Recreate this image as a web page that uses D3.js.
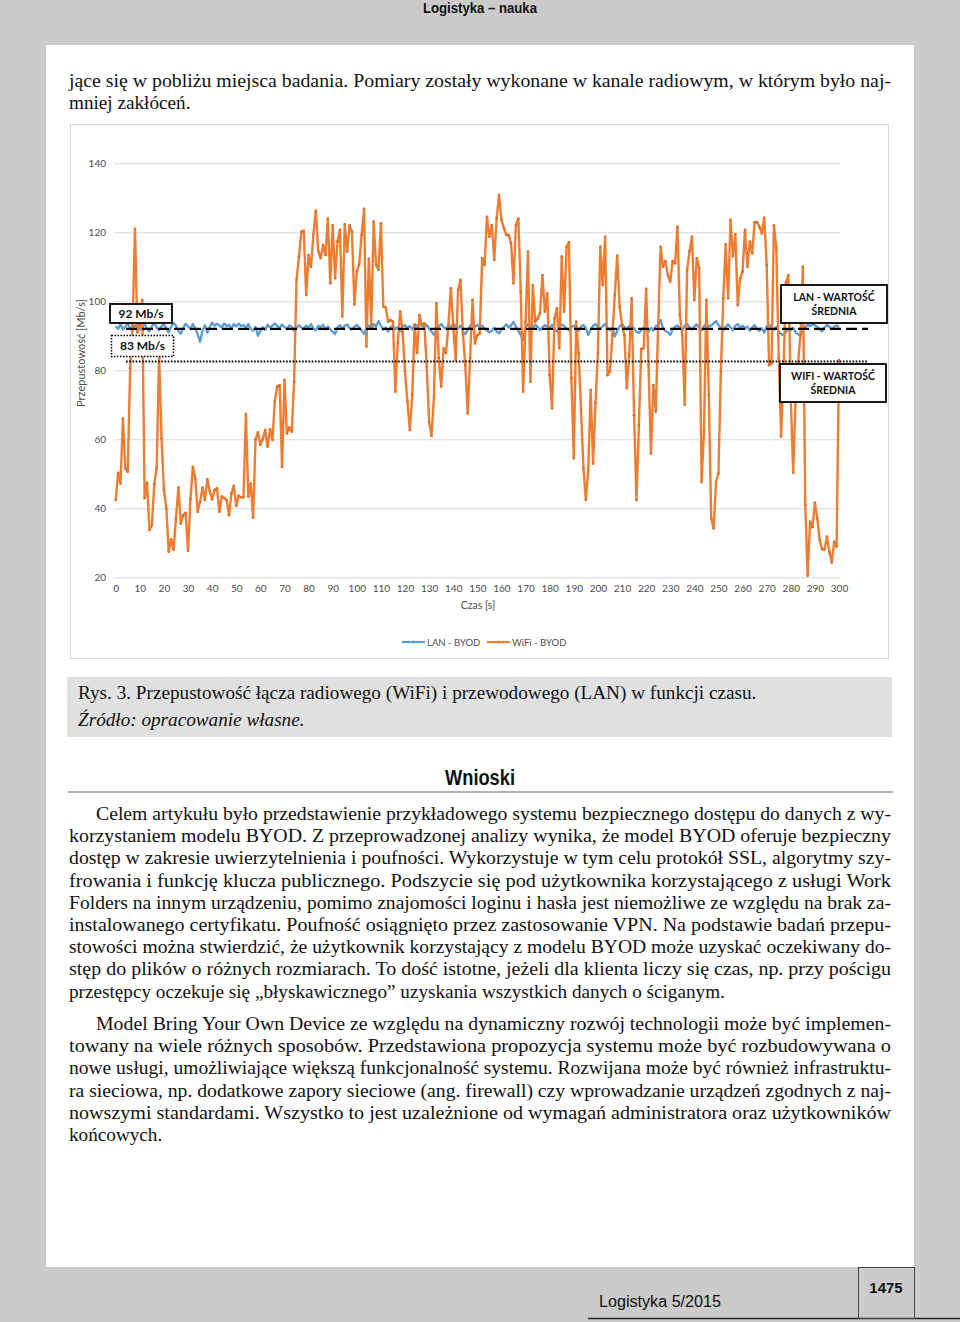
<!DOCTYPE html>
<html>
<head>
<meta charset="utf-8">
<script src="https://cdn.jsdelivr.net/npm/d3@7"></script>
<style>
    body { margin: 0; background: #cbcbcb; }
    svg { display: block; }
</style>
</head>
<body>
<svg id="page" width="960" height="1322"></svg>
<script>
var timeTicks = [0, 10, 20, 30, 40, 50, 60, 70, 80, 90, 100, 110, 120, 130, 140, 150,
                 160, 170, 180, 190, 200, 210, 220, 230, 240, 250, 260, 270, 280, 290, 300];
var valueTicks = [20, 40, 60, 80, 100, 120, 140];

var lanValues = [
    92.8, 92.0, 93.4, 91.8, 92.6, 93.6, 92.2, 91.5, 92.9, 93.2,
    91.8, 92.5, 93.5, 92.0, 91.3, 92.7, 93.8, 92.4, 91.6, 92.8,
    93.3, 92.1, 91.0, 92.6, 93.7, 92.9, 91.4, 90.6, 92.3, 93.5,
    92.7, 91.9, 93.4, 92.2, 90.4, 88.2, 91.5, 93.1, 90.9, 92.6,
    93.8, 92.9, 93.5, 93.0, 92.4, 93.6, 92.8, 93.2, 92.1, 93.4,
    92.7, 93.5, 92.9, 93.1, 92.3, 93.4, 92.0, 91.5, 92.6, 90.0,
    91.4, 92.5, 91.7, 93.2, 92.4, 92.9, 93.6, 92.8, 92.2, 93.3,
    92.5, 91.9, 93.0, 92.6, 91.4, 92.2, 93.1, 92.4, 92.0, 93.0,
    92.3, 93.4, 92.1, 91.6, 92.9, 92.5, 93.2, 91.8, 92.7, 91.9,
    91.2, 90.5, 92.4, 93.1, 92.0, 92.9, 93.3, 92.2, 91.8, 92.6,
    93.2, 92.4, 91.5, 90.6, 92.3, 93.0, 92.1, 93.5, 92.6, 94.3,
    92.9, 91.7, 92.4, 91.2, 92.5, 93.0, 91.8, 92.6, 91.4, 92.8,
    93.1, 92.2, 92.8, 91.9, 93.4, 92.6, 93.8, 93.0, 92.4, 93.2,
    92.0, 91.3, 90.3, 91.6, 92.7, 93.4, 92.5, 91.9, 93.0, 92.4,
    93.5, 92.8, 92.1, 93.0, 91.2, 90.5, 91.7, 92.9, 93.3, 92.6,
    93.2, 92.4, 92.9, 92.1, 91.6, 91.0, 91.5, 92.3, 91.2, 90.7,
    91.8, 92.6, 93.3, 92.4, 93.0, 94.0, 92.6, 91.5, 90.2, 88.8,
    92.5, 93.4, 92.9, 92.2, 93.3, 92.6, 91.7, 92.4, 93.1, 92.7,
    92.3, 93.2, 92.0, 91.3, 92.6, 93.3, 92.8, 92.1, 91.6, 92.5,
    93.0, 92.2, 91.4, 92.7, 93.1, 92.3, 90.2, 91.8, 92.9, 93.4,
    92.6, 91.9, 92.8, 93.5, 92.4, 91.6, 92.3, 89.8, 91.4, 92.7,
    93.4, 92.5, 91.8, 92.9, 93.2, 92.1, 91.2, 90.8, 91.6, 92.4,
    91.9, 91.2, 92.3, 91.5, 92.8, 93.1, 94.6, 92.2, 91.4, 91.0,
    90.2, 91.8, 92.6, 93.0, 92.3, 91.5, 92.9, 93.4, 92.5, 91.8,
    92.7, 93.3, 92.4, 91.6, 92.8, 93.5, 92.7, 93.0, 93.6, 94.3,
    93.1, 92.4, 91.5, 92.6, 93.3, 92.5, 91.6, 92.9, 93.4, 92.3,
    93.0, 92.1, 92.7, 91.5, 92.4, 93.1, 92.0, 91.4, 92.2, 90.9,
    92.8, 93.3, 92.4, 91.7, 92.6, 91.2, 90.5, 90.2, 91.1, 92.0,
    91.6, 92.3, 91.0, 90.4, 90.2, 91.3, 92.5, 93.2, 92.8, 93.4,
    93.0, 92.6, 91.8, 91.3, 92.4, 93.1, 92.7, 91.9, 92.6, 93.0,
    92.5
];

var wifiValues = [
    42.4, 50.3, 47.2, 66.0, 51.6, 50.6, 80.6, 93.0, 121.0, 91.0,
    93.0, 100.4, 43.0, 47.4, 33.7, 35.0, 47.0, 51.8, 84.5, 60.3,
    45.3, 40.0, 27.4, 31.0, 28.0, 37.0, 46.0, 35.6, 38.0, 38.7,
    27.7, 42.6, 52.0, 48.7, 39.0, 42.0, 46.0, 42.4, 48.4, 45.0,
    42.6, 45.3, 45.8, 39.0, 43.4, 43.0, 42.4, 38.0, 44.3, 46.5,
    40.7, 43.6, 43.2, 43.2, 67.3, 43.4, 47.2, 37.3, 60.0, 62.0,
    58.4, 60.0, 62.7, 57.9, 62.9, 59.8, 71.0, 75.3, 75.7, 52.0,
    77.2, 61.7, 63.4, 62.2, 76.7, 106.2, 113.0, 120.2, 120.4, 101.8,
    113.4, 110.0, 119.4, 126.2, 114.6, 112.5, 116.3, 113.4, 124.0, 105.2,
    122.0, 106.7, 117.3, 120.7, 95.6, 122.3, 114.4, 122.0, 120.2, 99.1,
    108.6, 110.7, 119.2, 126.8, 86.9, 112.3, 93.1, 123.1, 110.5, 109.1,
    122.6, 98.5, 98.2, 94.1, 94.6, 94.1, 73.8, 88.0, 97.0, 91.0,
    79.6, 71.0, 62.7, 72.9, 93.1, 85.0, 96.0, 93.0, 93.6, 81.0,
    65.0, 61.0, 72.4, 99.4, 83.5, 75.3, 86.4, 85.0, 93.1, 103.8,
    93.1, 83.0, 103.3, 106.2, 90.7, 81.5, 67.5, 83.5, 100.4, 87.8,
    90.2, 90.7, 112.5, 110.5, 124.5, 118.7, 122.1, 112.0, 124.0, 130.8,
    123.6, 121.2, 119.2, 119.2, 116.8, 105.2, 122.1, 124.0, 102.8, 73.8,
    94.1, 114.4, 76.7, 104.7, 94.1, 95.0, 96.5, 107.6, 97.0, 102.3,
    78.6, 69.0, 95.0, 98.0, 86.4, 113.0, 97.0, 115.8, 117.1, 77.7,
    54.5, 94.1, 85.0, 68.5, 51.6, 42.4, 51.1, 74.3, 53.0, 70.4,
    85.0, 115.8, 104.7, 118.7, 78.6, 79.6, 90.2, 101.8, 113.2, 98.5,
    93.1, 90.2, 74.8, 84.4, 100.9, 67.0, 42.4, 64.2, 86.2, 86.4,
    103.6, 81.5, 55.9, 75.7, 68.0, 93.1, 115.8, 110.0, 111.7, 107.6,
    105.7, 111.7, 111.0, 121.6, 96.0, 90.2, 70.0, 109.1, 114.4, 118.7,
    100.4, 112.5, 109.6, 47.6, 62.2, 100.4, 72.8, 37.1, 34.2, 47.7,
    50.1, 79.6, 100.9, 116.5, 100.9, 123.6, 113.0, 119.4, 98.9, 106.6,
    108.6, 120.7, 110.0, 117.3, 113.9, 122.9, 122.9, 121.6, 119.7, 124.2,
    110.5, 81.5, 82.0, 122.0, 115.4, 83.5, 60.8, 80.0, 105.5, 107.6,
    72.0, 50.3, 72.0, 82.0, 90.0, 110.0, 41.0, 20.5, 36.1, 34.5,
    41.6, 37.1, 30.8, 28.1, 28.1, 31.8, 27.4, 24.3, 30.3, 28.9,
    83.0
];

var lanMean = 92;
var wifiMean = 83;

// page text
var topLines = [
    { text: "jące się w pobliżu miejsca badania. Pomiary zostały wykonane w kanale radiowym, w którym było naj-", x: 69, full: true },
    { text: "mniej zakłóceń.", x: 69, full: false }
];
var conclusionsA = [
    { text: "Celem artykułu było przedstawienie przykładowego systemu bezpiecznego dostępu do danych z wy-", x: 96, full: true },
    { text: "korzystaniem modelu BYOD. Z przeprowadzonej analizy wynika, że model BYOD oferuje bezpieczny", x: 69, full: true },
    { text: "dostęp w zakresie uwierzytelnienia i poufności. Wykorzystuje w tym celu protokół SSL, algorytmy szy-", x: 69, full: true },
    { text: "frowania i funkcję klucza publicznego. Podszycie się pod użytkownika korzystającego z usługi Work", x: 69, full: true },
    { text: "Folders na innym urządzeniu, pomimo znajomości loginu i hasła jest niemożliwe ze względu na brak za-", x: 69, full: true },
    { text: "instalowanego certyfikatu. Poufność osiągnięto przez zastosowanie VPN. Na podstawie badań przepu-", x: 69, full: true },
    { text: "stowości można stwierdzić, że użytkownik korzystający z modelu BYOD może uzyskać oczekiwany do-", x: 69, full: true },
    { text: "stęp do plików o różnych rozmiarach. To dość istotne, jeżeli dla klienta liczy się czas, np. przy pościgu", x: 69, full: true },
    { text: "przestępcy oczekuje się „błyskawicznego” uzyskania wszystkich danych o ściganym.", x: 69, full: false }
];
var conclusionsB = [
    { text: "Model Bring Your Own Device ze względu na dynamiczny rozwój technologii może być implemen-", x: 96, full: true },
    { text: "towany na wiele różnych sposobów. Przedstawiona propozycja systemu może być rozbudowywana o", x: 69, full: true },
    { text: "nowe usługi, umożliwiające większą funkcjonalność systemu. Rozwijana może być również infrastruktu-", x: 69, full: true },
    { text: "ra sieciowa, np. dodatkowe zapory sieciowe (ang. firewall) czy wprowadzanie urządzeń zgodnych z naj-", x: 69, full: true },
    { text: "nowszymi standardami. Wszystko to jest uzależnione od wymagań administratora oraz użytkowników", x: 69, full: true },
    { text: "końcowych.", x: 69, full: false }
];

var serif = "'Liberation Serif', 'Times New Roman', serif";
var narrow = "'Liberation Sans Narrow', 'Arial Narrow', 'Liberation Sans', sans-serif";
var chartFont = "Lato, 'Open Sans', sans-serif";
var bodySize = "19.2px";

const page = d3.select("svg#page");

// page background + white sheet
page.append("rect").attr("width", 960).attr("height", 1322).attr("fill", "#cbcbcb");
page.append("rect").attr("x", 46).attr("y", 45).attr("width", 868).attr("height", 1222).attr("fill", "#ffffff");

page.append("text")
    .attr("x", 480).attr("y", 13)
    .attr("text-anchor", "middle")
    .attr("textLength", 114).attr("lengthAdjust", "spacingAndGlyphs")
    .style("font-family", narrow).style("font-weight", "bold").style("font-size", "14.5px")
    .style("fill", "#111")
    .text("Logistyka – nauka");

function writeLines(lines, y0, step) {
    lines.forEach((l, i) => {
        let t = page.append("text")
            .attr("x", l.x)
            .attr("y", y0 + i * step)
            .style("font-family", serif)
            .style("font-size", bodySize)
            .style("fill", "#111")
            .text(l.text);
        if (l.full) {
            t.attr("textLength", 891 - l.x).attr("lengthAdjust", "spacingAndGlyphs");
        }
    });
}

writeLines(topLines, 87, 22.2);

// chart frame
page.append("rect")
    .attr("x", 70.5).attr("y", 124.5).attr("width", 818).attr("height", 534)
    .attr("fill", "#fff").attr("stroke", "#d9d9d9");

let x = d3.scaleLinear().domain([0, 300]).range([115.7, 839]);
let y = d3.scaleLinear().domain([20, 140]).range([577.3, 163.3]);

// gridlines
let grid = d3.axisLeft(y).tickValues(valueTicks).tickSize(-(x(300) - x(0) + 2)).tickFormat("");
page.append("g")
    .attr("transform", "translate(" + (x(0) - 1) + ",0)")
    .call(grid)
    .call(g => g.select(".domain").remove())
    .call(g => g.selectAll("line").attr("stroke", "#d9d9d9"));

let yAxis = d3.axisLeft(y).tickValues(valueTicks).tickSize(0).tickPadding(8);
page.append("g")
    .attr("transform", "translate(114,0)")
    .call(yAxis)
    .call(g => g.select(".domain").remove())
    .call(g => g.selectAll("text").style("font-family", chartFont).style("font-size", "10px").attr("fill", "#4d4d4d"));

let xAxis = d3.axisBottom(x).tickValues(timeTicks).tickSize(0).tickPadding(8);
page.append("g")
    .attr("transform", "translate(0," + y(20) + ")")
    .call(xAxis)
    .call(g => g.select(".domain").remove())
    .call(g => g.selectAll("text").style("font-family", chartFont).style("font-size", "10px").attr("fill", "#4d4d4d"));

page.append("text")
    .attr("x", 478).attr("y", 609)
    .attr("text-anchor", "middle")
    .style("font-family", chartFont).style("font-size", "10.5px").attr("fill", "#4d4d4d")
    .text("Czas [s]");

page.append("text")
    .attr("transform", "translate(85,353) rotate(-90)")
    .attr("text-anchor", "middle")
    .style("font-family", chartFont).style("font-size", "11px").attr("fill", "#4d4d4d")
    .text("Przepustowość [Mb/s]");

// series
let line = d3.line().x((d, i) => x(i)).y(d => y(d));

page.append("path")
    .datum(lanValues)
    .attr("d", line)
    .attr("fill", "none").attr("stroke", "#5b9bd5").attr("stroke-width", 2.3)
    .attr("stroke-linejoin", "round");

page.append("path")
    .datum(wifiValues)
    .attr("d", line)
    .attr("fill", "none").attr("stroke", "#ed7d31").attr("stroke-width", 2.4)
    .attr("stroke-linejoin", "round");

page.append("g").selectAll("circle")
    .data(wifiValues)
    .join("circle")
    .attr("cx", (d, i) => x(i)).attr("cy", d => y(d))
    .attr("r", 1.3).attr("fill", "#d9702a");

// mean lines
page.append("line")
    .attr("x1", x(4.3)).attr("x2", x(312))
    .attr("y1", y(lanMean)).attr("y2", y(lanMean))
    .attr("stroke", "#000").attr("stroke-width", 2.4).attr("stroke-dasharray", "11,5");

page.append("line")
    .attr("x1", x(4.3)).attr("x2", x(312))
    .attr("y1", y(wifiMean) + 1.5).attr("y2", y(wifiMean) + 1.5)
    .attr("stroke", "#000").attr("stroke-width", 2).attr("stroke-dasharray", "1.6,1.6");

// callouts
function callout(bx, by, w, h, lines, dotted, size) {
    page.append("rect")
        .attr("x", bx).attr("y", by).attr("width", w).attr("height", h)
        .attr("fill", "#fff").attr("stroke", "#000")
        .attr("stroke-width", dotted ? 1.5 : 1.8)
        .attr("stroke-dasharray", dotted ? "1.5,1.5" : null);
    let t = page.append("text")
        .attr("text-anchor", "middle")
        .style("font-family", chartFont).style("font-weight", "bold").style("font-size", size + "px")
        .attr("fill", "#111");
    lines.forEach((s, i) => {
        t.append("tspan")
            .attr("x", bx + w / 2)
            .attr("y", by + h / 2 + (i - (lines.length - 1) / 2) * 14 + size * 0.36)
            .text(s);
    });
}

callout(110, 304, 62, 19, [lanMean + " Mb/s"], false, 12);
callout(111.5, 335.5, 62, 21, [wifiMean + " Mb/s"], true, 12);
callout(781, 285, 106, 38, ["LAN - WARTOŚĆ", "ŚREDNIA"], false, 10.5);
callout(780, 364, 106, 38, ["WIFI - WARTOŚĆ", "ŚREDNIA"], false, 10.5);

// legend
let legend = [
    { name: "LAN - BYOD", color: "#5b9bd5", x: 402 },
    { name: "WiFi - BYOD", color: "#ed7d31", x: 487 }
];
legend.forEach(l => {
    page.append("line")
        .attr("x1", l.x).attr("x2", l.x + 23).attr("y1", 642).attr("y2", 642)
        .attr("stroke", l.color).attr("stroke-width", 2.2);
    page.append("circle").attr("cx", l.x + 11.5).attr("cy", 642).attr("r", 1.5).attr("fill", l.color);
    page.append("text")
        .attr("x", l.x + 25).attr("y", 645.5)
        .style("font-family", chartFont).style("font-size", "9.5px").attr("fill", "#4d4d4d")
        .text(l.name);
});

// caption
page.append("rect").attr("x", 67).attr("y", 677).attr("width", 825).attr("height", 60).attr("fill", "#e1e1e1");
page.append("text")
    .attr("x", 78).attr("y", 699)
    .style("font-family", serif).style("font-size", bodySize).style("fill", "#111")
    .text("Rys. 3. Przepustowość łącza radiowego (WiFi) i przewodowego (LAN) w funkcji czasu.");
page.append("text")
    .attr("x", 78).attr("y", 726)
    .style("font-family", serif).style("font-size", bodySize).style("font-style", "italic").style("fill", "#111")
    .text("Źródło: opracowanie własne.");

// conclusions
page.append("text")
    .attr("x", 480).attr("y", 785)
    .attr("text-anchor", "middle")
    .attr("textLength", 70).attr("lengthAdjust", "spacingAndGlyphs")
    .style("font-family", narrow).style("font-weight", "bold").style("font-size", "22px")
    .style("fill", "#111")
    .text("Wnioski");
page.append("line")
    .attr("x1", 68).attr("x2", 893).attr("y1", 792).attr("y2", 792)
    .attr("stroke", "#9a9a9a").attr("stroke-width", 1.5);

writeLines(conclusionsA, 820, 22.2);
writeLines(conclusionsB, 1030, 22.2);

// footer
page.append("line")
    .attr("x1", 588).attr("x2", 960).attr("y1", 1318.5).attr("y2", 1318.5)
    .attr("stroke", "#222").attr("stroke-width", 1.5);
page.append("rect")
    .attr("x", 858.5).attr("y", 1267.5).attr("width", 56).attr("height", 51)
    .attr("fill", "none").attr("stroke", "#444");
page.append("text")
    .attr("x", 886).attr("y", 1293)
    .attr("text-anchor", "middle")
    .style("font-family", narrow).style("font-weight", "bold").style("font-size", "15px")
    .style("fill", "#111")
    .text("1475");
page.append("text")
    .attr("x", 599).attr("y", 1307)
    .attr("textLength", 122).attr("lengthAdjust", "spacingAndGlyphs")
    .style("font-family", "'Liberation Sans', Arial, sans-serif").style("font-size", "16px")
    .style("fill", "#111")
    .text("Logistyka 5/2015");
</script>
</body>
</html>
